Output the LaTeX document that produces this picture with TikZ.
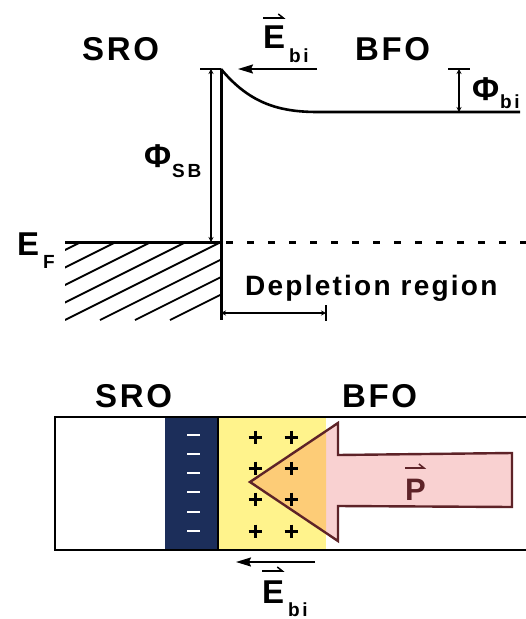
\documentclass[tikz,border=0pt]{standalone}
\usepackage{fontspec}
\setmainfont{Liberation Sans}
\newfontfamily\lblfont{Liberation Sans}[LetterSpace=8]
\newfontfamily\subfont{Liberation Sans}[LetterSpace=14]
\usetikzlibrary{arrows.meta}
\definecolor{navyband}{RGB}{28,46,90}
\definecolor{yellowband}{RGB}{255,243,140}
\definecolor{pinkarrow}{RGB}{249,209,209}
\definecolor{orangemix}{RGB}{253,204,119}
\definecolor{maroon}{RGB}{94,35,40}

\begin{document}
\begin{tikzpicture}[
        x=1pt, y=-1pt,
        word/.style={font=\lblfont\bfseries\fontsize{33}{33}\selectfont, inner sep=0pt, anchor=base west},
        sym/.style={font=\bfseries\fontsize{33}{33}\selectfont, inner sep=0pt, anchor=base west},
        sublbl/.style={font=\subfont\bfseries\fontsize{19}{19}\selectfont, inner sep=0pt, anchor=base west},
        band/.style={line width=2.6pt},
        hatch/.style={line width=1.8pt},
        field/.style={line width=1.6pt, -{Stealth[length=15pt, width=9pt, inset=2pt]}},
        span/.style={line width=1.2pt, {Stealth[length=5pt, width=5pt]}-{Stealth[length=5pt, width=5pt]}},
        harp/.style={line width=1.5pt, -{Straight Barb[harpoon, length=5pt, width=8pt]}},
        frame/.style={line width=2.4pt},
        plus/.style={line width=3pt},
    ]
    \useasboundingbox (0,0) rectangle (526,619);

    % Band diagram
    \coordinate (top) at (221,69);
    \coordinate (fermi) at (221,242);
    \coordinate (flat) at (318,112);
    \coordinate (flatEnd) at (520,112);

    \begin{scope}
        \clip (65,242) rectangle (221,320);
        \foreach \k in {-4,...,3}
            \draw[hatch] (65+35*\k,320) -- ++(200,-100);
    \end{scope}
    \draw[band, line width=3pt] (top) -- (221,320);
    \draw[band, line width=3pt] (65,242) -- (fermi);
    \draw[line width=3pt, dash pattern=on 7pt off 14pt, dash phase=-5pt] (fermi) -- (526,242);
    \draw[band] (top) .. controls (250,104) and (280,112) .. (flat) -- (flatEnd);
    \draw[line width=1.4pt] (200,69) -- (top);
    \draw[line width=1.4pt] (448,69) -- (470,69);

    \node[word] (sroA) at (82,60) {SRO};
    \node[word] (bfoA) at (355,60) {BFO};
    \node[sym] (eA) at (263,48) {E};
    \node[sublbl] (eAsub) at (289,62) {bi};
    \draw[harp] ([yshift=30pt]eA.base west) -- ([yshift=30pt]eA.base east);
    \coordinate (fieldAfrom) at (317,69);
    \coordinate (fieldAto) at (238,69);
    \draw[field] (fieldAfrom) -- (fieldAto);

    \node[sym] (phiSB) at (144,167) {Φ};
    \node[sublbl] (phiSBsub) at (172,177) {SB};
    \coordinate (sbTop) at (211,69);
    \coordinate (sbBot) at (211,242);
    \draw[span] (sbTop) -- (sbBot);

    \node[sym] (phiBi) at (472,100) {Φ};
    \node[sublbl] (phiBisub) at (500,108) {bi};
    \coordinate (biTop) at (459,69);
    \coordinate (biBot) at (459,112);
    \draw[span] (biTop) -- (biBot);

    \node[sym] (ef) at (17,255) {E};
    \node[sublbl] (efsub) at (43,268) {F};

    \node[word, font=\lblfont\bfseries\fontsize{28}{28}\selectfont] (depl) at (245,295) {Depletion region};
    \coordinate (dpL) at (221,313);
    \coordinate (dpR) at (326,313);
    \draw[span] (dpL) -- (dpR);
    \draw[line width=1.4pt] (326,305) -- (326,321);

    % Interface sketch
    \fill[navyband] (165,417) rectangle (218,550);
    \fill[yellowband] (218,417) rectangle (326,550);
    \def\Parrow{(250,482) -- (338,423) -- (338,455) -- (512,453) -- (512,507) -- (338,506) -- (338,541) -- cycle}
    \fill[pinkarrow] \Parrow;
    \begin{scope}
        \clip (218,417) rectangle (326,550);
        \fill[orangemix] \Parrow;
    \end{scope}
    \draw[maroon, line width=2.4pt, line join=miter] \Parrow;

    \foreach \y in {435,454,473,492,512,531}
        \draw[white, line width=1.3pt] (187,\y) -- (200,\y);
    \foreach \x in {255,291}
        \foreach \y in {437,468,499,531}
            \draw[plus] (\x-6.5,\y) -- (\x+6.5,\y) (\x,\y-6.5) -- (\x,\y+6.5);

    \draw[line width=2pt] (218,417) -- (218,550);
    \draw[frame] (526,417) -- (55,417) -- (55,550) -- (526,550);

    \node[word] (sroB) at (95,407) {SRO};
    \node[word] (bfoB) at (342,407) {BFO};
    \node[sym, text=maroon, font=\bfseries\fontsize{31}{31}\selectfont] (pVec) at (405,500) {P};
    \draw[harp, maroon] ([yshift=32pt]pVec.base west) -- ([yshift=32pt]pVec.base east);

    \coordinate (fieldBfrom) at (315,562);
    \coordinate (fieldBto) at (236,562);
    \draw[field] (fieldBfrom) -- (fieldBto);
    \node[sym] (eB) at (262,603) {E};
    \node[sublbl] (eBsub) at (288,616) {bi};
    \draw[harp] ([yshift=32pt]eB.base west) -- ([yshift=32pt]eB.base east);
\end{tikzpicture}
\end{document}
